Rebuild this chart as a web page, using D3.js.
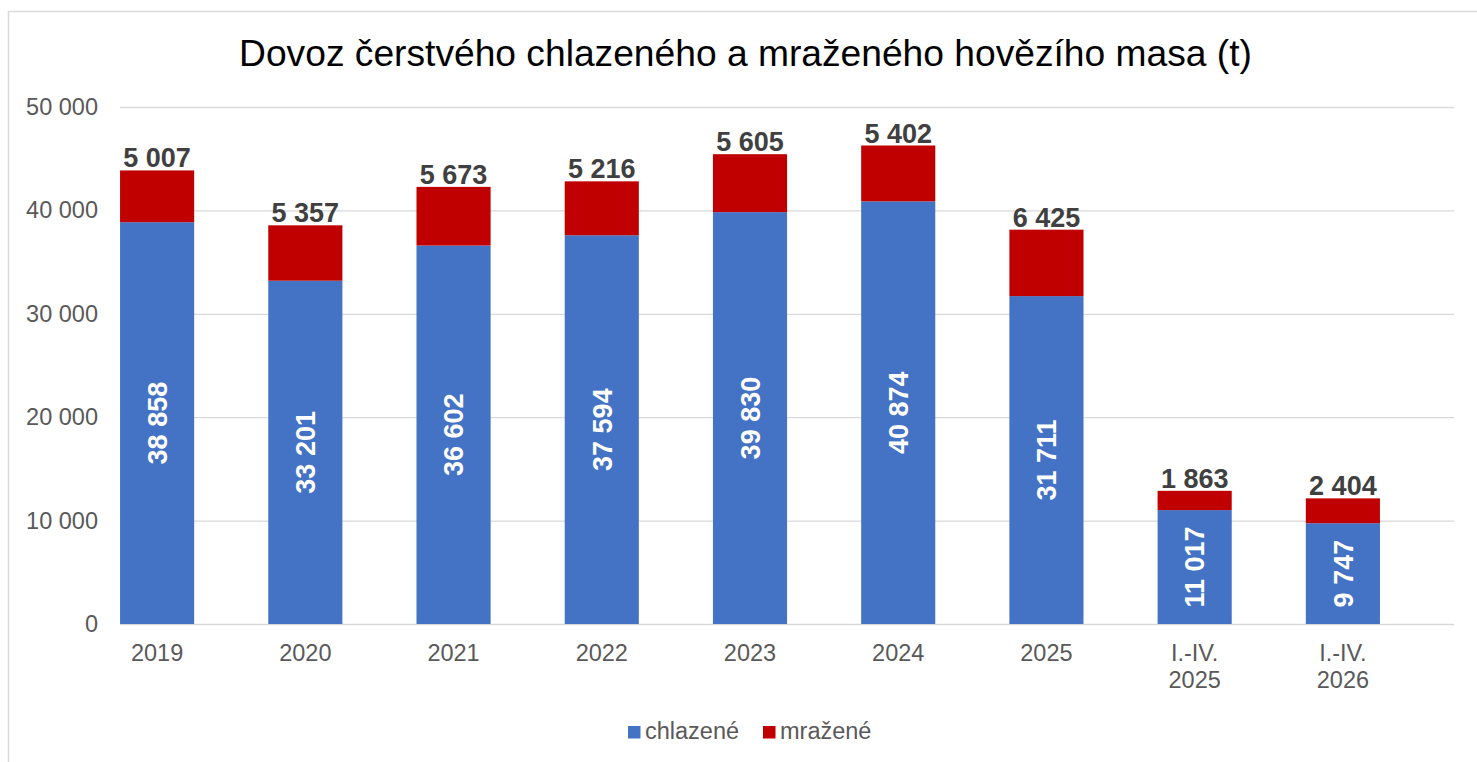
<!DOCTYPE html>
<html lang='cs'>
	<head>
		<meta charset='utf-8'>
		<title>Dovoz hovězího masa</title>
		<script type='text/javascript' src='https://cdn.jsdelivr.net/npm/d3@7'></script>
		<style>
			body { margin: 0; background: #fff; }
			text { font-family: 'Liberation Sans', Arial, sans-serif; }
		</style>
	</head>
	<body>
		<script type='text/javascript'>
			// data
			var categories = ['2019', '2020', '2021', '2022', '2023', '2024', '2025', 'I.-IV.\n2025', 'I.-IV.\n2026'];
			var chlazene = [38858, 33201, 36602, 37594, 39830, 40874, 31711, 11017, 9747];
			var mrazene = [5007, 5357, 5673, 5216, 5605, 5402, 6425, 1863, 2404];
			var yTicks = [0, 10000, 20000, 30000, 40000, 50000];
			var seriesNames = ['chlazené', 'mražené'];
			var seriesColors = ['#4472C4', '#C00000'];

			var width = 1477, height = 762;
			var svg = d3.select('body').append('svg').attr('width', width).attr('height', height);

			var cz = d3.formatLocale({decimal: ',', thousands: '\u00a0', grouping: [3], currency: ['', ' Kč']});
			var fmt = cz.format(',d');

			// chart frame
			svg.append('rect').attr('x', 8.5).attr('y', 11.5).attr('width', width).attr('height', height)
				.attr('fill', 'none').attr('stroke', '#d9d9d9').attr('stroke-width', 1.5);

			svg.append('text').attr('x', 745.5).attr('y', 66).attr('text-anchor', 'middle')
				.attr('font-size', 37.2).attr('fill', '#000')
				.text('Dovoz čerstvého chlazeného a mraženého hovězího masa (t)');

			var plotL = 120, plotR = 1454;
			var y = d3.scaleLinear().domain([0, 50000]).range([624, 107]);
			var x = d3.scaleBand().domain(categories).range([83, 1417]).paddingInner(0.5).paddingOuter(0.25);

			// gridlines
			svg.append('g').attr('transform', 'translate(' + plotL + ',0)')
				.call(d3.axisLeft(y).tickValues(yTicks).tickSize(-(plotR - plotL)).tickFormat(''))
				.call(g => g.select('.domain').remove())
				.call(g => g.selectAll('line').attr('stroke', '#d9d9d9').attr('stroke-width', 1.3));

			// y labels
			svg.append('g').attr('transform', 'translate(98,0)')
				.call(d3.axisLeft(y).tickValues(yTicks).tickSize(0).tickPadding(0).tickFormat(fmt))
				.call(g => g.select('.domain').remove())
				.call(g => g.selectAll('text').attr('font-size', 23.5).attr('fill', '#595959')
					.attr('font-family', "'Liberation Sans', Arial, sans-serif"));

			// x labels, split on line breaks
			var xAxis = svg.append('g').attr('transform', 'translate(0,624)')
				.call(d3.axisBottom(x).tickSize(0).tickFormat(''))
				.call(g => g.select('.domain').remove());
			xAxis.selectAll('.tick').each(function(d) {
				var t = d3.select(this).select('text').text(null).attr('dy', null)
					.attr('font-size', 23.5).attr('fill', '#595959')
					.attr('font-family', "'Liberation Sans', Arial, sans-serif").attr('y', 0);
				d.split('\n').forEach(function(line, i) {
					t.append('tspan').attr('x', 0).attr('y', 37 + i * 27).text(line);
				});
			});

			var rows = categories.map((c, i) => ({cat: c, chlazene: chlazene[i], mrazene: mrazene[i]}));
			var stack = d3.stack().keys(['chlazene', 'mrazene'])(rows);

			svg.append('g').selectAll('g').data(stack).enter().append('g')
				.attr('fill', (d, i) => seriesColors[i])
				.selectAll('rect').data(d => d).enter().append('rect')
				.attr('x', d => x(d.data.cat))
				.attr('width', x.bandwidth())
				.attr('y', d => y(d[1]))
				.attr('height', d => y(d[0]) - y(d[1]));

			// white rotated labels in blue segments
			svg.append('g').selectAll('text').data(stack[0]).enter().append('text')
				.attr('transform', d => 'translate(' + (x(d.data.cat) + x.bandwidth() / 2) + ',' + ((y(d[0]) + y(d[1])) / 2) + ') rotate(-90)')
				.attr('text-anchor', 'middle').attr('dy', '0.36em')
				.attr('font-size', 27).attr('font-weight', 'bold').attr('fill', '#fff')
				.text(d => fmt(d.data.chlazene));

			// labels above the red segments
			svg.append('g').selectAll('text').data(stack[1]).enter().append('text')
				.attr('x', d => x(d.data.cat) + x.bandwidth() / 2)
				.attr('y', d => y(d[1]) - 3)
				.attr('text-anchor', 'middle')
				.attr('font-size', 27).attr('font-weight', 'bold').attr('fill', '#404040')
				.text(d => fmt(d.data.mrazene));

			// legend
			var legendX = [628, 763];
			var legend = svg.append('g').selectAll('g').data(seriesNames).enter().append('g')
				.attr('transform', (d, i) => 'translate(' + legendX[i] + ',726)');
			legend.append('rect').attr('width', 12.5).attr('height', 12.5).attr('fill', (d, i) => seriesColors[i]);
			legend.append('text').attr('x', 17).attr('y', 12.5).attr('font-size', 23.5).attr('fill', '#595959').text(d => d);
		</script>
	</body>
</html>
